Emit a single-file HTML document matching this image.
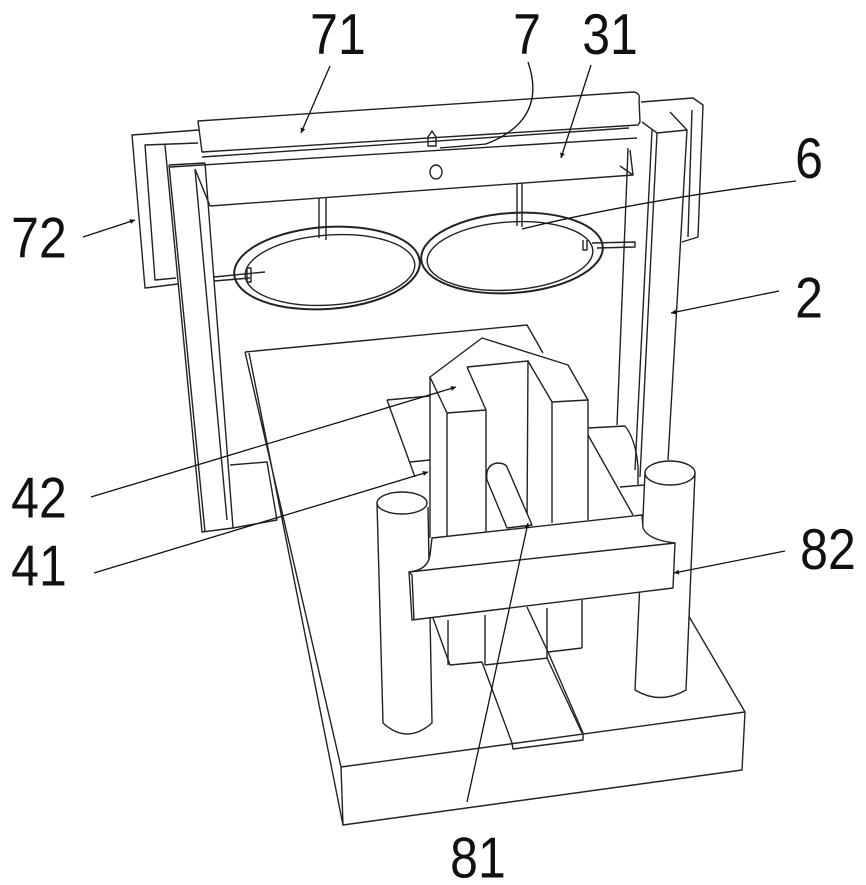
<!DOCTYPE html>
<html><head><meta charset="utf-8"><style>
html,body{margin:0;padding:0;background:#fff;}
svg{display:block;}
text{font-family:"Liberation Sans",sans-serif;font-size:50px;fill:#111;}
</style></head><body>
<svg width="866" height="885" viewBox="0 0 866 885" xmlns="http://www.w3.org/2000/svg">
<defs><marker id="a" viewBox="0 0 10 10" refX="10" refY="5" markerWidth="9" markerHeight="5" orient="auto" markerUnits="userSpaceOnUse"><path d="M0,0 L10,5 L0,10 z" fill="#111"/></marker></defs>
<g fill="none" stroke="#222" stroke-width="1.4" stroke-linejoin="round">
<path d="M199,130 L132,135 L145,288 L178,284"/>
<path d="M198,143 L145,145 L155,280 L176,278"/>
<path d="M165,145 L202,532 L233,528 L205,163"/>
<path d="M169,165 L205,532"/>
<path d="M169,165 L205,163"/>
<path d="M195,169 L227,520"/>
<path d="M230,465 L267,462 L277,520 L233,528"/>
<path d="M641,102 L693,98 L703,105 L698,237 L682,242"/>
<path d="M692,110 L688,237"/>
<path d="M642,122 L657,133 L640,477"/>
<path d="M657,133 L687,130 L668,460"/>
<path d="M670,112 L687,130"/>
<path d="M652,130 L635,470"/>
<path d="M627,175 L617,425"/>
<path d="M628,148 L627,175"/>
<path d="M198,121 L633,92 Q641,93 639,100 L640,122 L638,125 L202,152 Z"/>
<path d="M202,157 L629,128"/>
<path d="M170,167 L637,138"/>
<path d="M210,206 L633,175"/>
<path d="M195,169 L210,206"/>
<path d="M630,150 L633,175 L620,166"/>
<path d="M428,146 L428,137 L432,131 L436,137 L436,146 Z"/>
<ellipse cx="436" cy="172" rx="6" ry="7"/>
<path d="M319,198 L319,238 M326,198 L326,240"/>
<path d="M517,183 L517,226 M522,183 L522,227"/>
<ellipse cx="327" cy="268" rx="93" ry="41" transform="rotate(-4 327 268)" stroke-width="2"/>
<ellipse cx="330" cy="270" rx="85" ry="35" transform="rotate(-4 330 270)"/>
<ellipse cx="512" cy="253" rx="91" ry="40" transform="rotate(-4 512 253)" stroke-width="2"/>
<ellipse cx="510" cy="256" rx="83" ry="34" transform="rotate(-4 510 256)"/>
<path d="M214,277 L265,272 M214,281 L250,278 M247,268 L247,282 L251,282 L251,268 Z"/>
<path d="M592,243 L635,242 L635,247 L597,248 M583,240 L583,250 L587,250 L587,240"/>
<path d="M245,352 L527,325 L543,353"/>
<path d="M245,352 L341,767 M249,353 L343,825"/>
<path d="M341,767 L745,712 L742,770 L343,825 Z" fill="#fff"/>
<path d="M745,712 L687,613"/>
<path d="M482,662 L512,743 L513,749 L583,740 L583,733 L548,652"/>
<path d="M547,658 L582,733"/>
<path d="M433,618 L450,665 L482,662 M485,665 L548,658 M548,652 L582,648"/>
<path d="M448,620 L448,665 M485,615 L485,665 M547,608 L547,658 M582,600 L582,648"/>
<path d="M527,607 L548,652"/>
<path d="M387,400 L430,396 M387,400 L415,477 M410,462 L430,460"/>
<path d="M588,428 L625,426 Q636,440 638,467 L638,485 M588,435 L633,515 M620,487 L645,485"/>
<path d="M430,538 L430,377 L482,338 L568,365 L588,400 L588,520"/>
<path d="M430,377 L447,413 L486,410 L486,535"/>
<path d="M447,413 L447,538"/>
<path d="M467,367 L528,361 L527,527 M467,367 L486,410"/>
<path d="M528,361 L552,402 L588,400 M552,402 L552,523"/>
<path d="M487,480 Q485,465 497,463 Q505,463 507,467 L532,525 L507,528 Z" fill="#fff"/>
<path d="M645,473 L635,690 Q660,705 686,690 L695,473" fill="#fff"/>
<ellipse cx="670" cy="473" rx="25" ry="12" fill="#fff"/>
<path d="M377,503 L383,723 Q407,745 432,723 L428,507" fill="#fff"/>
<ellipse cx="402" cy="503" rx="25" ry="11" fill="#fff"/>
<path d="M432,538 L642,515 L643,528 Q648,540 675,543 L673,588 L412,620 L409,572 Q428,570 430,555 Z" fill="#fff"/>
<path d="M409,572 L675,543 M409,572 L412,575 L414,620"/>
</g>
<g fill="none" stroke="#111" stroke-width="1.3">
<path d="M330,66 L301,133" marker-end="url(#a)"/>
<path d="M528,62 Q548,120 486,144 L440,148"/>
<path d="M591,65 L561,158" marker-end="url(#a)"/>
<path d="M796,181 Q640,200 522,229"/>
<path d="M83,237 L135,220" marker-end="url(#a)"/>
<path d="M779,291 L671,313" marker-end="url(#a)"/>
<path d="M91,497 L456,387" marker-end="url(#a)"/>
<path d="M94,573 L428,472" marker-end="url(#a)"/>
<path d="M785,551 L674,573" marker-end="url(#a)"/>
<path d="M467,802 L528,523" marker-end="url(#a)"/>
</g>
<g transform="scale(1,1.15)">
<text x="338" y="47" text-anchor="middle">71</text>
<text x="527" y="47" text-anchor="middle">7</text>
<text x="610" y="47" text-anchor="middle">31</text>
<text x="809" y="155" text-anchor="middle">6</text>
<text x="39" y="224" text-anchor="middle">72</text>
<text x="809" y="276" text-anchor="middle">2</text>
<text x="39" y="450" text-anchor="middle">42</text>
<text x="39" y="509" text-anchor="middle">41</text>
<text x="828" y="495" text-anchor="middle">82</text>
<text x="478" y="763" text-anchor="middle">81</text>
</g>
</svg>
</body></html>
